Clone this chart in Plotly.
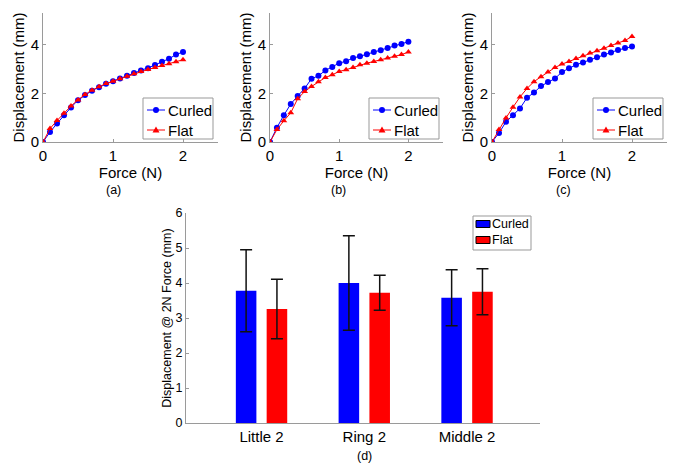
import plotly.graph_objects as go

force = [round(0.1 * i, 1) for i in range(21)]

a_curled = [0, 0.41, 0.76, 1.10, 1.42, 1.72, 1.93, 2.11, 2.25, 2.39, 2.50, 2.61, 2.72, 2.83, 2.94, 3.03, 3.16, 3.30, 3.42, 3.59, 3.70]
a_flat   = [0, 0.55, 0.88, 1.18, 1.48, 1.73, 1.95, 2.13, 2.27, 2.40, 2.50, 2.60, 2.70, 2.80, 2.90, 2.98, 3.06, 3.14, 3.22, 3.30, 3.38]
b_curled = [0, 0.59, 1.10, 1.56, 1.89, 2.20, 2.60, 2.72, 2.94, 3.08, 3.24, 3.32, 3.45, 3.52, 3.61, 3.70, 3.77, 3.86, 3.96, 4.03, 4.12]
b_flat   = [0, 0.51, 0.87, 1.20, 1.78, 2.07, 2.28, 2.48, 2.65, 2.76, 2.90, 2.97, 3.06, 3.17, 3.24, 3.31, 3.38, 3.45, 3.52, 3.59, 3.70]
c_curled = [0, 0.37, 0.83, 1.10, 1.38, 1.82, 2.03, 2.30, 2.47, 2.61, 2.88, 3.03, 3.17, 3.27, 3.38, 3.48, 3.59, 3.68, 3.78, 3.86, 3.92]
c_flat   = [0, 0.51, 0.99, 1.43, 1.85, 2.20, 2.48, 2.68, 2.88, 3.06, 3.20, 3.31, 3.43, 3.54, 3.66, 3.75, 3.85, 3.96, 4.07, 4.17, 4.33]

fingers = ["Little 2", "Ring 2", "Middle 2"]
finger_pos = [1, 2, 3]
bar_curled = [3.78, 4.00, 3.58]
bar_curled_err = [1.17, 1.35, 0.80]
bar_flat = [3.26, 3.72, 3.75]
bar_flat_err = [0.85, 0.50, 0.66]

series_names = ["Curled", "Flat"]
panel_labels = ["(a)", "(b)", "(c)", "(d)"]

BLUE = "#0000FF"
RED = "#FF0000"
FONT = "Arial, Liberation Sans, sans-serif"
AXC = "#9a9a9a"

# the page body adds an 8px margin, so the figure is sized to fill the rest of the window
OFF = 8
W, H = 685 - OFF, 472 - OFF
def px(x): return (x - OFF) / W
def py(y): return 1 - (y - OFF) / H

fig = go.Figure()

panels = [
    (a_curled, a_flat, "x", "y"),
    (b_curled, b_flat, "x2", "y2"),
    (c_curled, c_flat, "x3", "y3"),
]
for cur, flt, xa, ya in panels:
    fig.add_trace(go.Scatter(x=force, y=cur, mode="lines+markers", name=series_names[0],
                             line=dict(color=BLUE, width=1),
                             marker=dict(symbol="circle", size=6, color=BLUE),
                             xaxis=xa, yaxis=ya, showlegend=False))
    fig.add_trace(go.Scatter(x=force, y=flt, mode="lines+markers", name=series_names[1],
                             line=dict(color=RED, width=1),
                             marker=dict(symbol="triangle-up", size=6, color=RED),
                             xaxis=xa, yaxis=ya, showlegend=False))

fig.add_trace(go.Bar(x=finger_pos, y=bar_curled, name=series_names[0], width=0.2, offset=-0.25,
                     marker=dict(color=BLUE, line=dict(width=0)),
                     error_y=dict(type="data", array=bar_curled_err, color="#111", thickness=1.5, width=6),
                     xaxis="x4", yaxis="y4", showlegend=False))
fig.add_trace(go.Bar(x=finger_pos, y=bar_flat, name=series_names[1], width=0.2, offset=0.05,
                     marker=dict(color=RED, line=dict(width=0)),
                     error_y=dict(type="data", array=bar_flat_err, color="#111", thickness=1.5, width=6),
                     xaxis="x4", yaxis="y4", showlegend=False))

top_dom = [py(142), py(13)]
xdoms = [[px(43), px(218)], [px(270), px(443)], [px(492), px(667)]]

def xaxis_top(dom, anchor):
    return dict(domain=dom, anchor=anchor, range=[0, 2.5], tickvals=[0, 1, 2],
                showline=True, linecolor=AXC, linewidth=1, ticks="inside", ticklen=3,
                tickcolor=AXC, showgrid=False, zeroline=False, automargin=False,
                tickfont=dict(family=FONT, size=15, color="black"),
                title=dict(text="Force (N)", font=dict(family=FONT, size=15, color="black"), standoff=0))

def yaxis_top(anchor):
    return dict(domain=top_dom, anchor=anchor, range=[0, 5.3], tickvals=[0, 2, 4],
                showline=True, linecolor=AXC, linewidth=1, ticks="inside", ticklen=3,
                tickcolor=AXC, showgrid=False, zeroline=False, automargin=False,
                tickfont=dict(family=FONT, size=15, color="black"),
                title=dict(text="Displacement (mm)", font=dict(family=FONT, size=15, color="black"), standoff=2))

fig.update_layout(
    width=W, height=H, margin=dict(l=0, r=0, t=0, b=0, autoexpand=False),
    paper_bgcolor="white", plot_bgcolor="white",
    barmode="overlay", showlegend=False,
    xaxis=xaxis_top(xdoms[0], "y"), yaxis=yaxis_top("x"),
    xaxis2=xaxis_top(xdoms[1], "y2"), yaxis2=yaxis_top("x2"),
    xaxis3=xaxis_top(xdoms[2], "y3"), yaxis3=yaxis_top("x3"),
    xaxis4=dict(domain=[px(186), px(540)], anchor="y4", range=[0.265, 3.71],
                tickvals=finger_pos, ticktext=fingers, showline=True, linecolor=AXC,
                linewidth=1, ticks="", showgrid=False, zeroline=False, automargin=False,
                tickfont=dict(family=FONT, size=15, color="black")),
    yaxis4=dict(domain=[py(423), py(213)], anchor="x4", range=[0, 6], dtick=1,
                showline=True, linecolor=AXC, linewidth=1, ticks="inside", ticklen=3,
                tickcolor=AXC, showgrid=False, zeroline=False, automargin=False,
                tickfont=dict(family=FONT, size=12.5, color="black"),
                title=dict(text="Displacement @ 2N Force (mm)",
                           font=dict(family=FONT, size=12.5, color="black"), standoff=1)),
)

shapes = []
annots = []

# line-plot legends (drawn as decorations in paper space)
for left in (143, 369, 593):
    right = left + 70
    shapes.append(dict(type="rect", xref="paper", yref="paper",
                       x0=px(left), x1=px(right), y0=py(139), y1=py(98),
                       line=dict(color="#999", width=1), fillcolor="white", layer="above"))
    for i, (name, col) in enumerate(zip(series_names, (BLUE, RED))):
        yc = 110 + 20 * i
        shapes.append(dict(type="line", xref="paper", yref="paper",
                           x0=px(left + 4), x1=px(left + 22), y0=py(yc), y1=py(yc),
                           line=dict(color=col, width=1), layer="above"))
        cx = left + 13
        if i == 0:
            shapes.append(dict(type="circle", xref="paper", yref="paper",
                               x0=px(cx - 3), x1=px(cx + 3), y0=py(yc + 3), y1=py(yc - 3),
                               line=dict(color=col, width=0), fillcolor=col, layer="above"))
        else:
            path = "M %f %f L %f %f L %f %f Z" % (px(cx - 3.5), py(yc + 2.5), px(cx + 3.5), py(yc + 2.5),
                                                  px(cx), py(yc - 3.5))
            shapes.append(dict(type="path", xref="paper", yref="paper", path=path,
                               line=dict(color=col, width=0), fillcolor=col, layer="above"))
        annots.append(dict(text=name, x=px(left + 23), y=py(yc), xref="paper", yref="paper",
                           showarrow=False, xanchor="left", yanchor="middle",
                           font=dict(family=FONT, size=15, color="black")))

# bar legend
shapes.append(dict(type="rect", xref="paper", yref="paper",
                   x0=px(473), x1=px(531), y0=py(250), y1=py(216),
                   line=dict(color="#999", width=1), fillcolor="white", layer="above"))
for i, (name, col) in enumerate(zip(series_names, (BLUE, RED))):
    yc = 224 + 16 * i
    shapes.append(dict(type="rect", xref="paper", yref="paper",
                       x0=px(476), x1=px(490), y0=py(yc + 3.5), y1=py(yc - 3.5),
                       line=dict(color="black", width=1), fillcolor=col, layer="above"))
    annots.append(dict(text=name, x=px(490), y=py(yc), xref="paper", yref="paper",
                       showarrow=False, xanchor="left", yanchor="middle",
                       font=dict(family=FONT, size=12.5, color="black")))

for lab, xc, yc in zip(panel_labels, (113, 338, 563, 364), (190, 190, 190, 456)):
    annots.append(dict(text=lab, x=px(xc), y=py(yc), xref="paper", yref="paper",
                       showarrow=False, xanchor="center", yanchor="middle",
                       font=dict(family=FONT, size=12.5, color="black")))

fig.update_layout(shapes=shapes, annotations=annots)

fig.write_html("out.html")
